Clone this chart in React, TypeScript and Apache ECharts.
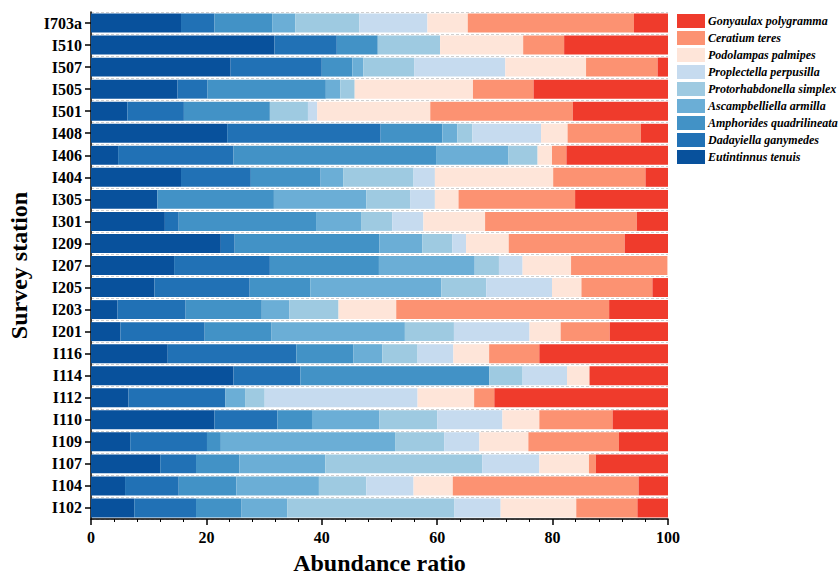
import React, { useEffect, useRef } from "react";
import * as echarts from "echarts";

const stations = ["I703a","I510","I507","I505","I501","I408","I406","I404","I305","I301","I209","I207","I205","I203","I201","I116","I114","I112","I110","I109","I107","I104","I102"];

const speciesNames = ["Eutintinnus tenuis","Dadayiella ganymedes","Amphorides quadrilineata","Ascampbelliella armilla","Protorhabdonella simplex","Proplectella perpusilla","Podolampas palmipes","Ceratium teres","Gonyaulax polygramma"];

const speciesColors = ["#08519c","#2171b5","#4292c6","#6baed6","#9ecae1","#c6dbef","#fee5d9","#fc9272","#ef3b2c"];

const eutintinnus = [15.6,31.8,24.2,15.0,6.3,23.6,4.7,15.6,11.5,12.8,22.5,14.4,11.0,4.6,5.1,13.3,24.7,6.5,21.4,6.8,12.0,5.9,7.5];
const dadayiella = [5.8,10.8,15.8,5.2,9.8,26.6,20.0,12.1,0,2.4,2.4,16.6,16.5,11.8,14.6,22.3,11.6,16.8,10.9,13.3,6.2,9.3,10.7];
const amphorides = [10.0,7.1,5.3,20.5,14.9,10.7,35.1,12.1,20.2,23.8,25.1,18.9,10.5,13.2,11.6,9.9,32.7,0,6.0,2.4,7.5,10.0,7.9];
const ascampbelliella = [4.0,0,1.9,2.5,0,2.6,12.5,3.9,16.0,7.8,7.4,16.6,22.7,4.8,23.1,5.0,0,3.4,11.7,30.2,14.9,14.3,7.9];
const protorhabdonella = [11.1,10.8,8.8,2.5,6.6,2.6,5.1,12.2,7.6,5.4,5.2,4.2,7.8,8.5,8.5,6.1,5.8,3.4,10.0,8.5,27.2,8.2,29.0];
const proplectella = [11.8,0,15.8,0,1.6,11.9,0,3.7,4.3,5.4,2.4,4.1,11.4,0,13.1,6.2,7.7,26.5,11.3,6.1,9.9,8.2,8.0];
const podolampas = [7.0,14.4,14.0,20.5,19.6,4.6,2.5,20.5,4.1,10.7,7.4,8.4,5.1,10.0,5.4,6.2,3.9,9.8,6.4,8.5,8.6,6.8,13.1];
const ceratium = [28.8,7.1,12.4,10.5,24.7,12.7,2.5,16.0,20.2,26.3,20.1,16.7,12.3,36.9,8.5,8.7,0,3.5,12.7,15.7,1.2,32.2,10.6];
const gonyaulax = [6.0,18.0,2.0,23.4,16.6,4.7,17.6,3.9,16.1,5.4,7.5,0,2.7,10.2,10.1,22.3,13.6,30.1,9.6,8.5,12.5,5.1,5.3];

const seriesValues = [eutintinnus, dadayiella, amphorides, ascampbelliella, protorhabdonella, proplectella, podolampas, ceratium, gonyaulax];

const xTicks = { min: 0, max: 100, interval: 20 };

const FONT = "'Liberation Serif', 'Times New Roman', serif";

export default function App() {
  const ref = useRef<HTMLDivElement>(null);
  useEffect(() => {
    if (!ref.current) return;
    const chart = echarts.init(ref.current, undefined, { renderer: "svg" });
    chart.setOption({
      animation: false,
      backgroundColor: "#ffffff",
      grid: { left: 91, right: 170, top: 12, bottom: 56, containLabel: false, outerBoundsMode: "none" },
      legend: {
        data: [...speciesNames].reverse(),
        orient: "vertical",
        left: 672,
        top: 9,
        itemWidth: 28,
        itemHeight: 14,
        itemGap: 3,
        icon: "rect",
        textStyle: {
          fontFamily: FONT,
          fontStyle: "italic",
          fontWeight: "bold",
          fontSize: 12,
          color: "#000",
          padding: [0, 0, 0, -2],
        },
      },
      xAxis: {
        type: "value",
        min: xTicks.min,
        max: xTicks.max,
        interval: xTicks.interval,
        name: "Abundance ratio",
        nameLocation: "middle",
        nameGap: 32,
        nameTextStyle: { fontFamily: FONT, fontWeight: "bold", fontSize: 24, color: "#000" },
        axisLine: { show: true, lineStyle: { color: "#000", width: 1.5 } },
        axisTick: { show: true, length: 6, lineStyle: { color: "#000", width: 1.5 } },
        minorTick: { show: true, splitNumber: 5, length: 3, lineStyle: { color: "#000", width: 1 } },
        splitLine: { show: false },
        axisLabel: { fontFamily: FONT, fontWeight: "bold", fontSize: 16, color: "#000", margin: 10 },
      },
      yAxis: {
        type: "category",
        data: stations,
        inverse: true,
        name: "Survey station",
        nameLocation: "middle",
        nameGap: 60,
        nameRotate: 90,
        nameTextStyle: { fontFamily: FONT, fontWeight: "bold", fontSize: 24, color: "#000" },
        axisLine: { show: true, lineStyle: { color: "#000", width: 1.5 } },
        axisTick: { show: true, length: 6, alignWithLabel: true, interval: 0, lineStyle: { color: "#000", width: 1.5 } },
        splitLine: { show: true, interval: 0, lineStyle: { color: "#d0d0d0", type: [3, 2], width: 1 } },
        axisLabel: { fontFamily: FONT, fontWeight: "bold", fontSize: 16, color: "#000", margin: 9, interval: 0 },
      },
      series: speciesNames.map((name, i) => ({
        name,
        type: "bar",
        stack: "total",
        barCategoryGap: "14%",
        itemStyle: { color: speciesColors[i] },
        data: seriesValues[i],
      })),
    });
    return () => chart.dispose();
  }, []);
  return <div ref={ref} style={{ width: 838, height: 575, position: "absolute", left: 0, top: 0 }} />;
}
